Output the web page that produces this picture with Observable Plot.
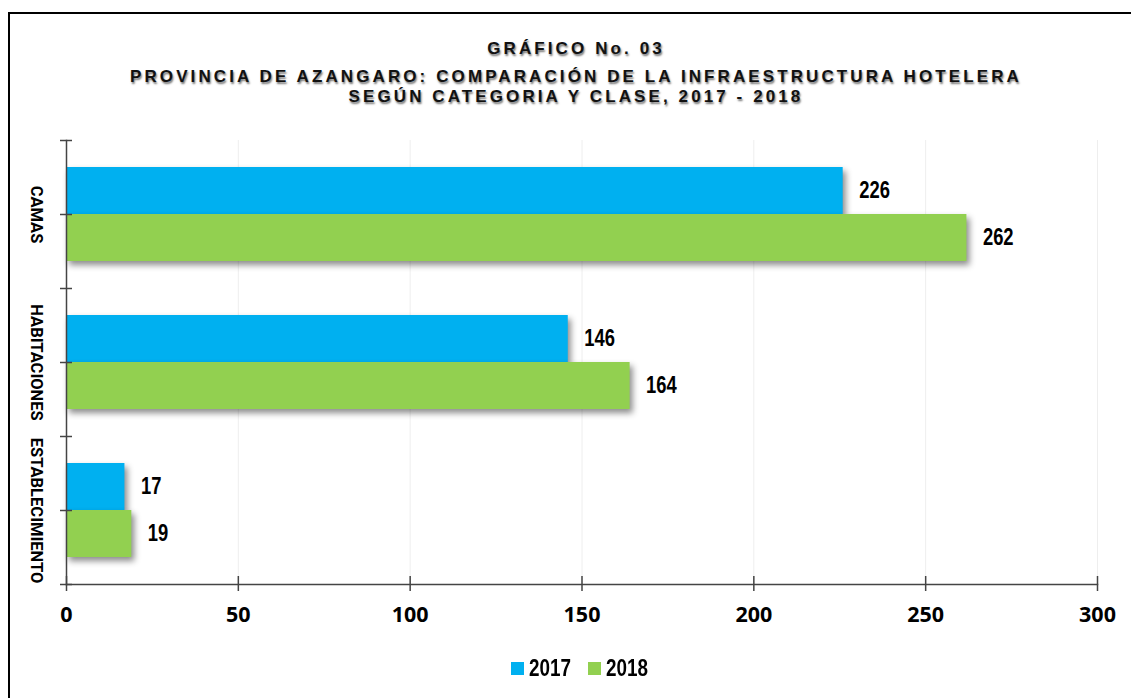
<!DOCTYPE html>
<html>
<head>
<meta charset="utf-8">
<script src="https://cdn.jsdelivr.net/npm/d3@7"></script>
<script src="https://cdn.jsdelivr.net/npm/@observablehq/plot@0.6"></script>
<style>
  html, body { margin: 0; padding: 0; background: #fff; }
  body { width: 1131px; height: 698px; position: relative; overflow: hidden; }
  #frame { position: absolute; left: 8px; top: 12px; width: 1140px; height: 720px; border: 2px solid #000; box-sizing: border-box; }
  .title { position: absolute; left: 0; width: 1152px; text-align: center; font-family: "Liberation Sans", Arial, sans-serif; font-weight: bold; font-size: 17px; letter-spacing: 3.1px; color: #111; text-shadow: 1px 2px 2px rgba(0,0,0,0.55); white-space: nowrap; line-height: 1; }
  #chart { position: absolute; left: 0; top: 125px; }
  #legend { position: absolute; top: 655px; left: 0; width: 1131px; height: 30px; font-family: "Liberation Sans", Arial, sans-serif; font-weight: bold; font-size: 23px; color: #000; }
  .item { position: absolute; top: 0; display: flex; align-items: center; height: 26px; }
  .sw { width: 13px; height: 13px; display: inline-block; margin-right: 5px; }
  .lt { display: inline-block; transform: scaleX(0.82); transform-origin: left center; }
</style>
</head>
<body>
<div id="frame"></div>
<div class="title" style="top:40px">GRÁFICO No. 03</div>
<div class="title" style="top:68px">PROVINCIA DE AZANGARO: COMPARACIÓN DE LA INFRAESTRUCTURA HOTELERA</div>
<div class="title" style="top:88px">SEGÚN CATEGORIA Y CLASE, 2017 - 2018</div>
<div id="chart"></div>
<div id="legend"></div>
<script>
const categories = ["CAMAS", "HABITACIONES", "ESTABLECIMIENTO"];
const years = ["2017", "2018"];
const values2017 = [226, 146, 17];
const values2018 = [262, 164, 19];
const xTicks = [0, 50, 100, 150, 200, 250, 300];
const colors = ["#00B0F0", "#92D050"];

const rows2017 = categories.map((c, i) => ({cat: c, year: years[0], value: values2017[i]}));
const rows2018 = categories.map((c, i) => ({cat: c, year: years[1], value: values2018[i]}));

const axisColor = "#444";
const tickFont = "'Open Sans', 'Liberation Sans', sans-serif";
const catFont = "Roboto, 'Liberation Sans', sans-serif";
const valueFont = "'Liberation Sans', Arial, sans-serif";

const plot = Plot.plot({
  width: 1131,
  height: 510,
  marginLeft: 66,
  marginRight: 34,
  marginTop: 15,
  marginBottom: 51,
  style: {fontFamily: tickFont, background: "transparent", overflow: "visible"},
  x: {domain: [0, 300], ticks: xTicks},
  y: {domain: categories, padding: 0, axis: null},
  marks: [
    Plot.ruleX(xTicks.slice(1), {stroke: "#eeeeee", strokeWidth: 1}),
    Plot.barX(rows2017, {x: "value", y: "cat", fill: colors[0], insetTop: 27, insetBottom: 74}),
    Plot.barX(rows2018, {x: "value", y: "cat", fill: colors[1], insetTop: 74, insetBottom: 27}),
    Plot.frame({anchor: "left", stroke: axisColor, strokeWidth: 1.5}),
    Plot.frame({anchor: "bottom", stroke: axisColor, strokeWidth: 1.5}),
    Plot.tickX(xTicks, {x: d => d, insetTop: 436, insetBottom: -7, stroke: axisColor, strokeWidth: 1.5}),
    Plot.tickY(categories, {y: d => d, insetLeft: -6, insetRight: 1025, stroke: axisColor, strokeWidth: 1.5}),
    Plot.tickY(categories, {y: d => d, dy: -74, insetLeft: -6, insetRight: 1025, stroke: axisColor, strokeWidth: 1.5}),
    Plot.tickY(categories.slice(-1), {y: d => d, dy: 74, insetLeft: -6, insetRight: 1025, stroke: axisColor, strokeWidth: 1.5}),
    Plot.axisX({ticks: xTicks, tickSize: 0, tickPadding: 22, fontSize: 21.5, fontWeight: 700, fill: "#000", label: null}),
    Plot.text(categories, {y: d => d, x: 0, dx: -30, rotate: 90, text: d => d, fontSize: 16.5, fontWeight: 700, fontFamily: catFont, fill: "#000"}),
    Plot.text(rows2017, {x: "value", y: "cat", text: d => String(d.value), dx: 16, dy: -23.5, textAnchor: "start", fontSize: 23, fontWeight: "bold", fontFamily: valueFont, fill: "#000", className: "vlabel"}),
    Plot.text(rows2018, {x: "value", y: "cat", text: d => String(d.value), dx: 16, dy: 23.5, textAnchor: "start", fontSize: 23, fontWeight: "bold", fontFamily: valueFont, fill: "#000", className: "vlabel"})
  ]
});

d3.select(plot).selectAll("g[aria-label=bar]").style("filter", "drop-shadow(3px 4px 3px rgba(0,0,0,0.45))");
// narrow the value labels (Arial Narrow look)
d3.select(plot).selectAll("g.vlabel text, .vlabel text").each(function() {
  const t = this.getAttribute("transform") || "";
  if (!/scale/.test(t)) this.setAttribute("transform", t + " scale(0.8,1)");
});
document.getElementById("chart").appendChild(plot);

const legend = document.getElementById("legend");
const legendX = [511, 588];
years.forEach((y, i) => {
  const item = document.createElement("div");
  item.className = "item";
  item.style.left = legendX[i] + "px";
  const sw = document.createElement("span");
  sw.className = "sw";
  sw.style.background = colors[i];
  item.appendChild(sw);
  const lt = document.createElement("span");
  lt.className = "lt";
  lt.textContent = y;
  item.appendChild(lt);
  legend.appendChild(item);
});
</script>
</body>
</html>
